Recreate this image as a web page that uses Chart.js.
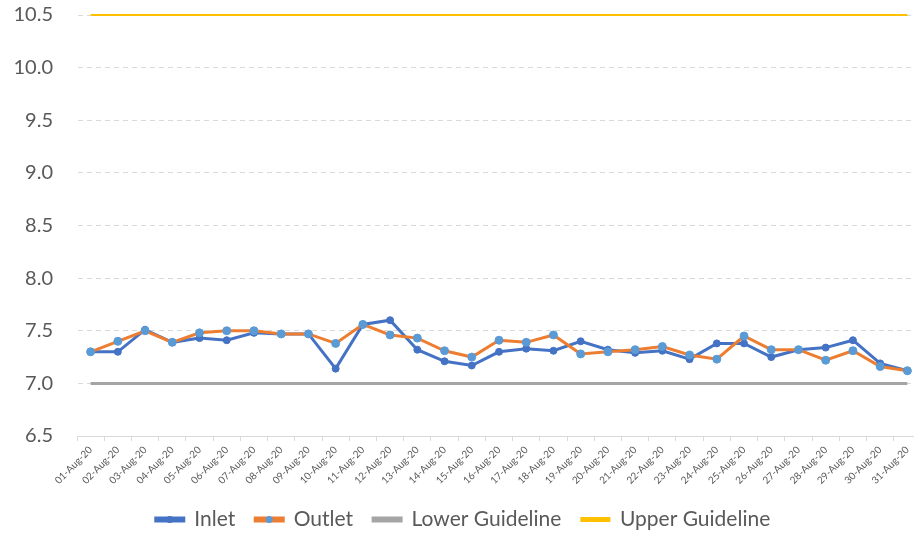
<!DOCTYPE html>
<html>
<head>
<meta charset="utf-8">
<script src="https://cdn.jsdelivr.net/npm/chart.js@4.4.0/dist/chart.umd.min.js"></script>
<style>
  html, body { margin: 0; padding: 0; overflow: hidden; background: #fff; }
  #wrap { width: 926px; height: 536px; position: relative; }
</style>
</head>
<body>
<div id="wrap"><canvas id="myChart"></canvas></div>
<script>
// categories
var days = ["01-Aug-20", "02-Aug-20", "03-Aug-20", "04-Aug-20", "05-Aug-20", "06-Aug-20",
  "07-Aug-20", "08-Aug-20", "09-Aug-20", "10-Aug-20", "11-Aug-20", "12-Aug-20",
  "13-Aug-20", "14-Aug-20", "15-Aug-20", "16-Aug-20", "17-Aug-20", "18-Aug-20",
  "19-Aug-20", "20-Aug-20", "21-Aug-20", "22-Aug-20", "23-Aug-20", "24-Aug-20",
  "25-Aug-20", "26-Aug-20", "27-Aug-20", "28-Aug-20", "29-Aug-20", "30-Aug-20", "31-Aug-20"];

// pH readings
var inlet = [7.30, 7.30, 7.51, 7.39, 7.43, 7.41, 7.48, 7.47, 7.47, 7.14,
  7.56, 7.60, 7.32, 7.21, 7.17, 7.30, 7.33, 7.31, 7.40, 7.32,
  7.29, 7.31, 7.23, 7.38, 7.38, 7.25, 7.32, 7.34, 7.41, 7.19, 7.12];
var outlet = [7.30, 7.40, 7.50, 7.39, 7.48, 7.50, 7.50, 7.47, 7.47, 7.38,
  7.56, 7.46, 7.43, 7.31, 7.25, 7.41, 7.39, 7.46, 7.28, 7.30,
  7.32, 7.35, 7.27, 7.23, 7.45, 7.32, 7.32, 7.22, 7.31, 7.16, 7.12];

// guidelines
var lowerGuide = [7.0, 7.0, 7.0, 7.0, 7.0, 7.0, 7.0, 7.0, 7.0, 7.0, 7.0, 7.0, 7.0, 7.0, 7.0, 7.0,
  7.0, 7.0, 7.0, 7.0, 7.0, 7.0, 7.0, 7.0, 7.0, 7.0, 7.0, 7.0, 7.0, 7.0, 7.0];
var upperGuide = [10.5, 10.5, 10.5, 10.5, 10.5, 10.5, 10.5, 10.5, 10.5, 10.5, 10.5, 10.5, 10.5, 10.5, 10.5, 10.5,
  10.5, 10.5, 10.5, 10.5, 10.5, 10.5, 10.5, 10.5, 10.5, 10.5, 10.5, 10.5, 10.5, 10.5, 10.5];

var yMin = 6.5, yMax = 10.5, yStep = 0.5;

var txt = "#595959";
var fontFam = "Lato, 'Open Sans', sans-serif";

// little marker in the middle of the legend line, like excel does
var legendDots = {
  id: "legendDots",
  afterDraw: function (chart) {
    var lg = chart.legend;
    if (!lg || !lg.legendHitBoxes) return;
    var c = chart.ctx;
    lg.legendItems.forEach(function (item, i) {
      var ds = chart.data.datasets[item.datasetIndex];
      if (!ds.pointRadius) return;
      var box = lg.legendHitBoxes[i];
      c.save();
      c.fillStyle = ds.pointBackgroundColor;
      c.beginPath();
      c.arc(box.left + 14, box.top + box.height / 2, 3.5, 0, Math.PI * 2);
      c.fill();
      c.restore();
    });
  }
};

var ctx = document.getElementById("myChart").getContext("2d");

var myChart = new Chart(ctx, {
  type: "line",
  plugins: [legendDots],
  data: {
    labels: days,
    datasets: [{
        label: "Inlet",
        data: inlet,
        borderColor: "#4472C4",
        backgroundColor: "#4472C4",
        borderWidth: 3,
        pointRadius: 3.5,
        pointBackgroundColor: "#4472C4",
        pointBorderColor: "#4472C4",
        pointBorderWidth: 1,
        tension: 0,
        order: 3
      },
      {
        label: "Outlet",
        data: outlet,
        borderColor: "#ED7D31",
        backgroundColor: "#ED7D31",
        borderWidth: 3,
        pointRadius: 4,
        pointBackgroundColor: "#5B9BD5",
        pointBorderColor: "#5B9BD5",
        pointBorderWidth: 1,
        tension: 0,
        order: 2
      },
      {
        label: "Lower Guideline",
        data: lowerGuide,
        borderColor: "#A5A5A5",
        backgroundColor: "#A5A5A5",
        borderWidth: 3,
        pointRadius: 0,
        order: 10
      },
      {
        label: "Upper Guideline",
        data: upperGuide,
        borderColor: "#FFC000",
        backgroundColor: "#FFC000",
        borderWidth: 2,
        pointRadius: 0,
        clip: false,
        order: 11
      }
    ]
  },
  options: {
    responsive: true,
    maintainAspectRatio: false,
    animation: false,
    layout: {
      padding: { top: 15, left: 0, right: 0, bottom: -4 }
    },
    plugins: {
      legend: {
        display: true,
        position: "bottom",
        labels: {
          boxWidth: 28,
          boxHeight: 3,
          padding: 20,
          color: txt,
          font: { family: fontFam, size: 21 },
          sort: function (a, b) { return a.datasetIndex - b.datasetIndex; }
        }
      },
      tooltip: { enabled: false }
    },
    scales: {
      x: {
        offset: true,
        grid: {
          offset: true,
          drawOnChartArea: false,
          color: "#D9D9D9",
          tickLength: 5
        },
        border: { color: "#D9D9D9", width: 1 },
        ticks: {
          color: txt,
          font: { family: fontFam, size: 10 },
          minRotation: 45,
          maxRotation: 45,
          autoSkip: false,
          padding: 3
        },
        afterFit: function (scale) {
          scale.height = 53;
          scale.paddingLeft = 0;
          scale.paddingRight = 0;
        }
      },
      y: {
        min: yMin,
        max: yMax,
        grid: {
          color: "#D9D9D9",
          drawTicks: false
        },
        border: { display: true, color: "rgba(0,0,0,0)", dash: [5, 4] },
        ticks: {
          stepSize: yStep,
          color: txt,
          padding: 24,
          font: { family: fontFam, size: 20 },
          callback: function (v) { return v.toFixed(1); }
        },
        afterFit: function (scale) {
          scale.width = 77;
          scale.paddingTop = 0;
          scale.paddingBottom = 0;
        }
      }
    }
  }
});
</script>
</body>
</html>
